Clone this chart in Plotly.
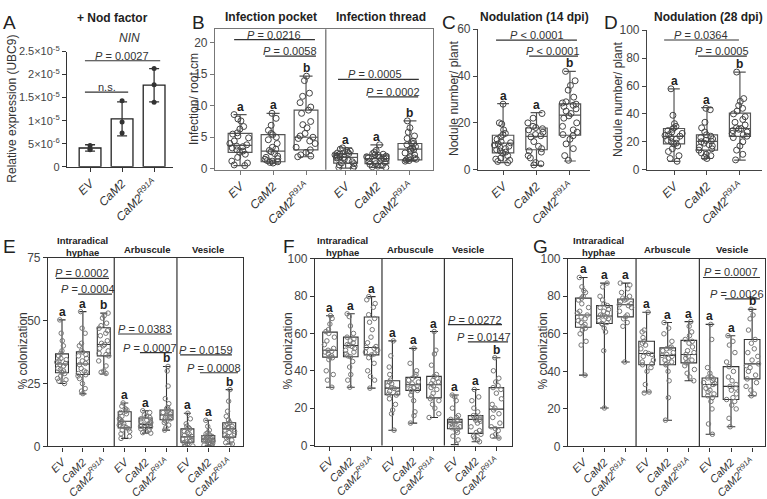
import plotly.graph_objects as go

W, H = 767, 499
FONT = "Liberation Sans, Arial, sans-serif"

# ---------------- data ----------------
tick_text = ["<i>EV</i>", "<i>CaM2</i>", "<i>CaM2</i><sup><i>R91A</i></sup>"]

# Panel A: NIN relative expression (+ Nod factor)
nin_mean = [4.07e-6, 10.4e-6, 17.7e-6]
nin_sd = [0.7e-6, 3.7e-6, 3.6e-6]
nin_pts = [[4.6e-6, 3.7e-6, 3.9e-6], [14.3e-6, 9.7e-6, 7.3e-6], [21.3e-6, 17.8e-6, 14.0e-6]]
a_ticks = [0, 5e-6, 1e-5, 1.5e-5, 2e-5, 2.5e-5]
a_ticktext = ["0", "5×10<sup>-6</sup>", "1×10<sup>-5</sup>", "1.5×10<sup>-5</sup>",
              "2×10<sup>-5</sup>", "2.5×10<sup>-5</sup>"]

# box stats: [min, q1, median, q3, max]
# Panel B: infection pocket (3) + infection thread (3)
b_stats = [[0.5, 2.6, 3.7, 5.6, 8.6], [0.9, 1.1, 2.8, 5.4, 8.8], [1.9, 3.0, 5.0, 9.3, 14.7],
           [0.1, 0.9, 1.8, 2.4, 3.3], [0.2, 0.8, 1.6, 2.2, 3.8], [1.2, 1.4, 3.1, 4.0, 7.6]]
b_pts = [
    [8.6, 7.9, 7.6, 6.7, 6.3, 5.7, 5.5, 5.2, 4.9, 4.4, 4.0, 3.8, 3.6, 3.5, 3.3, 3.0, 2.8, 2.6, 2.3, 1.8, 1.2, 0.9, 0.6, 0.5],
    [8.8, 8.0, 6.9, 6.1, 5.6, 5.4, 5.0, 4.6, 4.0, 3.4, 3.1, 2.9, 2.7, 2.4, 2.0, 1.8, 1.6, 1.5, 1.3, 1.2, 1.1, 1.0, 0.9],
    [14.7, 14.0, 12.0, 11.5, 10.5, 9.8, 9.3, 8.8, 7.5, 7.0, 6.5, 5.6, 5.2, 5.0, 4.8, 4.4, 4.0, 3.4, 3.0, 2.6, 2.2, 2.0, 1.9],
    [3.3, 3.1, 2.9, 2.8, 2.6, 2.5, 2.4, 2.3, 2.2, 2.0, 1.9, 1.8, 1.8, 1.7, 1.5, 1.3, 1.1, 0.9, 0.8, 0.6, 0.4, 0.2, 0.1],
    [3.8, 2.9, 2.6, 2.4, 2.3, 2.2, 2.1, 2.0, 1.9, 1.8, 1.7, 1.6, 1.6, 1.5, 1.3, 1.1, 1.0, 0.8, 0.7, 0.5, 0.4, 0.3, 0.2],
    [7.6, 6.5, 5.8, 5.2, 4.8, 4.4, 4.1, 4.0, 3.8, 3.5, 3.3, 3.1, 3.0, 2.8, 2.5, 2.2, 1.9, 1.7, 1.6, 1.5, 1.4, 1.3, 1.2],
]
b_letters = ["a", "a", "b", "a", "a", "b"]

# Panel C: nodulation 14 dpi
c_stats = [[3.0, 7.2, 11.3, 14.7, 28.2], [1.8, 8.5, 14.2, 17.8, 24.4], [3.7, 14.7, 23.3, 28.1, 42.0]]
c_pts = [
    [28, 20, 19.5, 17, 15.5, 15, 14, 13, 12, 11.5, 11, 10.5, 10, 9.5, 9, 8.5, 8, 7.5, 7, 6, 5, 4.5, 4, 3.5, 3],
    [24, 22, 20, 18.5, 18, 17.5, 17, 16, 15, 14.5, 14, 12, 10, 9, 8, 7.5, 6, 5, 3, 2.5, 2],
    [42, 38, 36, 34, 31, 29, 28.5, 28, 27.5, 27, 26, 25, 24, 23, 22, 20, 18.5, 17, 16, 15, 14.5, 13, 11, 9, 6, 4],
]
c_letters = ["a", "a", "b"]

# Panel D: nodulation 28 dpi
d_stats = [[6, 18.5, 23.8, 29.5, 58], [8, 14, 20.3, 25, 44.5], [6.9, 23.8, 29.5, 40.6, 70]]
d_pts = [
    [58, 39, 33, 31, 30, 29, 28, 27, 26, 25, 24.5, 24, 23, 22, 21, 20, 19, 18.5, 17, 15, 13, 10, 8, 6],
    [44, 43, 34, 30, 27, 25, 24, 23, 22, 21, 20.5, 20, 19, 18, 17, 16, 15, 14, 12, 11, 10, 9, 8],
    [70, 51, 49, 46, 44, 42, 40, 38, 36, 34, 32, 30, 29.5, 29, 28, 27, 26, 25, 24, 23, 20, 17, 14, 11, 7],
]
d_letters = ["a", "a", "b"]

# Panel E: % colonization (intraradical hyphae, arbuscule, vesicle)
e_stats = [[25, 29.3, 32.8, 36.8, 50.3], [20.9, 28.6, 32.8, 37.6, 53.6], [28.8, 36, 40.5, 47.2, 53],
           [3.2, 7.4, 10, 13.8, 17.3], [5.3, 7.5, 8.8, 11.3, 14.2], [6.5, 10.6, 12.5, 14.5, 31.8],
           [0, 1.7, 3.8, 7, 13.2], [0.3, 1.8, 3.0, 4.3, 10.4], [1, 3.7, 7, 9.4, 22.6]]
e_pts = [
    [50.3, 45, 42, 40, 38, 37, 36, 35, 34.5, 34, 33.5, 33, 32.5, 32, 31, 30.5, 30, 29.5, 29, 28, 27, 26.5, 26, 25],
    [53.6, 47, 45, 41, 40, 38, 37.5, 36.5, 36, 35, 34, 33, 32.5, 31, 30, 29.5, 29, 28.5, 28, 27, 25, 23, 22, 21],
    [53, 52, 51, 49, 48, 47, 46, 45, 44, 42, 41, 40.5, 40, 39, 38, 37, 36.5, 36, 34, 32, 30, 29.5, 29],
    [17.3, 16, 15, 14.5, 14, 13.5, 13, 12, 11, 10.5, 10, 9.5, 9, 8.5, 8, 7.5, 7, 6.5, 6, 5, 4, 3.2],
    [14.2, 13.5, 12.5, 12, 11.5, 11, 10.5, 10, 9.5, 9, 8.8, 8.5, 8, 7.8, 7.5, 7, 6.5, 6, 5.5, 5.3],
    [31.8, 30, 24, 19, 17, 15.5, 15, 14.5, 14, 13.5, 13, 12.5, 12, 11.5, 11, 10.5, 10, 9.5, 8.5, 7.5, 6.5],
    [13.2, 11, 9, 8, 7.5, 7, 6, 5.5, 5, 4.5, 4, 3.5, 3, 2.5, 2, 1.8, 1.5, 1, 0.5, 0.2, 0],
    [10.4, 8, 6.5, 5.5, 5, 4.5, 4.2, 4, 3.6, 3.3, 3, 2.8, 2.5, 2.2, 2, 1.8, 1.5, 1.2, 0.8, 0.5, 0.3],
    [22.6, 18, 14, 12, 10.5, 9.5, 9, 8.5, 8, 7.5, 7, 6.5, 6, 5.5, 5, 4.5, 4, 3.5, 2.5, 1.5, 1],
]
e_letters = ["a", "a", "b", "a", "a", "b", "a", "a", "b"]

# Panel F
f_stats = [[31.2, 47.3, 51, 60.7, 69.5], [31.2, 47.5, 53.5, 58, 70.5], [30.7, 48.5, 52.5, 68.8, 79.7],
           [8.2, 27.2, 30.7, 34.7, 56], [12, 29.5, 32.5, 36.5, 52], [15, 25.5, 32.5, 37, 61],
           [0.5, 9, 12.5, 14, 27], [2, 6.5, 14, 16, 30], [4, 9.5, 19.5, 31, 47]]
f_pts = [
    [69.5, 68, 65, 62, 61, 60, 58, 56, 54, 52, 51, 50.5, 50, 49, 48, 47.5, 47, 46, 40, 38, 35, 31.2],
    [70.5, 69, 64, 60, 58, 57, 56, 55, 54, 53.5, 53, 52, 51, 50, 49, 48, 47.5, 45, 42, 38, 35, 31.2],
    [79.7, 78, 76, 74, 70, 68, 66, 62, 58, 55, 53, 52.5, 52, 51, 50, 49, 48.5, 47, 44, 40, 37, 35, 30.7],
    [56, 48, 42, 38, 35, 34, 33, 32, 31, 30.5, 30, 29, 28, 27.5, 27, 25, 22, 19, 17, 8.2],
    [52, 44, 40, 38, 37, 36, 35, 34, 33, 32.5, 32, 31, 30, 29.5, 29, 27, 24, 18, 16, 12],
    [61, 51, 49, 43, 38, 37, 36, 35, 34, 33, 32, 31, 30, 28, 26, 25, 24, 22, 20, 17, 15],
    [27, 26, 24, 20, 16, 15, 14, 13.5, 13, 12.5, 12, 11.5, 11, 10, 9.5, 9, 8, 7, 5, 3, 0.5],
    [30, 26, 24, 20, 18, 16, 15.5, 15, 14.5, 14, 13.5, 13, 12, 10, 8, 7, 6, 5, 4, 3, 2],
    [47, 40, 36, 34, 32, 31, 30, 28, 25, 22, 20, 19, 17, 15, 12, 10, 9, 8, 6, 5, 4],
]
f_letters = ["a", "a", "a", "a", "a", "a", "a", "a", "b"]

# Panel G
g_stats = [[38, 63.5, 70, 79, 90], [20.5, 65.5, 69.5, 75, 87], [45, 69, 75.5, 78.5, 87],
           [29, 43.5, 49.5, 56, 71.5], [14, 43.5, 48.5, 52.5, 66], [35, 44.5, 49, 56.5, 66.5],
           [6.5, 26.5, 33, 36.5, 65], [10.5, 25, 32, 42.5, 59], [27, 36, 44, 57, 73]]
g_pts = [
    [90, 85, 83, 82, 80, 79, 78, 76, 74, 72, 71, 70, 69, 68, 67, 66, 65, 64, 63, 62, 60, 56, 54, 38],
    [87, 85, 80, 78, 76, 75, 74, 73, 72, 71, 70, 69.5, 69, 68, 67, 66, 65.5, 65, 63, 61, 51, 20.5],
    [87, 86, 84, 82, 80, 79, 78.5, 78, 77, 76, 75.5, 75, 74, 72, 70, 69, 68, 66, 64, 45],
    [71.5, 62, 61, 58, 56, 55, 54, 52, 50, 49.5, 49, 48, 46, 45, 44, 43.5, 42, 40, 33, 29, 28.5],
    [66, 63, 60, 56, 53, 52.5, 52, 51, 50, 49, 48.5, 48, 47, 46, 45, 44, 43.5, 40, 35, 26, 14],
    [66.5, 64, 61, 59, 57, 56, 55, 53, 51, 50, 49, 48, 47, 46, 45, 44.5, 43, 41, 39, 37, 35],
    [65, 57, 42, 39, 37, 36.5, 36, 35, 34, 33.5, 33, 32, 31, 30, 29, 28, 27, 26, 24, 20, 12, 6.5],
    [59, 56, 54, 50, 45, 42.5, 40, 37, 35, 33, 32, 31, 30, 28, 26, 25, 24, 22, 20, 15, 10.5],
    [73, 70, 68, 62, 57, 55, 52, 50, 48, 46, 44, 43, 42, 40, 38, 36, 34, 32, 30, 28, 27],
]
g_letters = ["a", "a", "a", "a", "a", "a", "a", "a", "b"]

# significance brackets: (x0, x1, y, text x, p text)
a_sig = [(-0.16, 2.19, 2.3e-5, 1.0, "<i>P</i> = 0.0027"), (-0.16, 1.19, 1.62e-5, 0.53, "n.s.")]
b_sig = [(-0.18, 2.27, 20.5, 1.03, "<i>P</i> = 0.0216"), (0.76, 2.3, 17.9, 1.52, "<i>P</i> = 0.0058"),
         (2.97, 5.42, 14.2, 4.1, "<i>P</i> = 0.0005"), (3.88, 5.4, 11.4, 4.64, "<i>P</i> = 0.0002")]
c_sig = [(-0.21, 2.21, 55.4, 1.0, "<i>P</i> < 0.0001"), (0.78, 2.24, 48.5, 1.5, "<i>P</i> < 0.0001")]
d_sig = [(-0.3, 1.97, 93, 0.82, "<i>P</i> = 0.0364"), (0.73, 2.21, 81.5, 1.45, "<i>P</i> = 0.0005")]
e_sig = [(-0.29, 2.25, 66.8, 0.96, "<i>P</i> = 0.0002"), (0.77, 2.39, 60.5, 1.24, "<i>P</i> = 0.0004"),
         (2.68, 5.26, 44.7, 3.97, "<i>P</i> = 0.0383"), (3.73, 5.26, 37.3, 4.2, "<i>P</i> = 0.0007"),
         (5.65, 8.13, 36.4, 6.9, "<i>P</i> = 0.0159"), (6.6, 8.42, 29.3, 7.27, "<i>P</i> = 0.0008")]
f_sig = [(5.67, 8.27, 64.7, 6.97, "<i>P</i> = 0.0272"), (6.63, 8.56, 55.5, 7.4, "<i>P</i> = 0.0147")]
g_sig = [(5.67, 8.37, 90, 7.0, "<i>P</i> = 0.0007"), (6.71, 8.37, 78.6, 7.28, "<i>P</i> = 0.0026")]

b_pos = [0, 1, 2, 3.2, 4.15, 5.15]
abc_pos = [0, 1, 2]
efg_pos = list(range(9))

# ---------------- figure ----------------
fig = go.Figure()


def px_x(p):
    return p / W


def px_y(p):
    return 1 - p / H


annotations = []
shapes = []


def add_box_panel(n, pos, stats, pts, letters, width, box_col, pt_col, pt_size, lw, letter_size):
    xa, ya = "x%d" % n, "y%d" % n
    fig.add_trace(go.Box(
        x=pos, lowerfence=[s[0] for s in stats], q1=[s[1] for s in stats],
        median=[s[2] for s in stats], q3=[s[3] for s in stats],
        upperfence=[s[4] for s in stats], width=width, whiskerwidth=0.55,
        boxpoints=False, fillcolor="white", line=dict(color=box_col, width=lw),
        xaxis=xa, yaxis=ya, hoverinfo="skip", showlegend=False))
    xs, ys = [], []
    for p, vals in zip(pos, pts):
        xs += [p] * len(vals)
        ys += vals
    fig.add_trace(go.Box(
        x=xs, y=ys, boxpoints="all", jitter=0.9, pointpos=0, width=width,
        fillcolor="rgba(0,0,0,0)", line=dict(width=0, color="rgba(0,0,0,0)"),
        marker=dict(symbol="circle-open", size=pt_size, color=pt_col,
                    line=dict(width=1, color=pt_col)),
        xaxis=xa, yaxis=ya, hoverinfo="skip", showlegend=False))
    for p, s, l in zip(pos, stats, letters):
        annotations.append(dict(x=p, y=s[4], xref=xa, yref=ya, text="<b>%s</b>" % l,
                                showarrow=False, yanchor="bottom", yshift=-1,
                                font=dict(size=letter_size, color="#222", family=FONT)))


def add_sig(n, sig, size=11):
    xa, ya = "x%d" % n, "y%d" % n
    for x0, x1, y, tx, t in sig:
        shapes.append(dict(type="line", xref=xa, yref=ya, x0=x0, x1=x1, y0=y, y1=y,
                           line=dict(color="#333", width=1.2)))
        annotations.append(dict(x=tx, y=y, xref=xa, yref=ya, text=t, showarrow=False,
                                yanchor="bottom", yshift=-3,
                                font=dict(size=size, color="#333", family=FONT)))


# Panel A bars
fig.add_trace(go.Bar(x=abc_pos, y=nin_mean, width=0.68, marker=dict(color="white", line=dict(color="#222", width=1.3)),
                     error_y=dict(type="data", array=nin_sd, color="#333", thickness=1.3, width=5),
                     xaxis="x1", yaxis="y1", hoverinfo="skip", showlegend=False))
ax_pts, ay_pts = [], []
for p, vals in zip(abc_pos, nin_pts):
    ax_pts += [p] * len(vals)
    ay_pts += vals
fig.add_trace(go.Scatter(x=ax_pts, y=ay_pts, mode="markers",
                         marker=dict(size=5, color="#333"), xaxis="x1", yaxis="y1",
                         hoverinfo="skip", showlegend=False))
add_sig(1, a_sig)

add_box_panel(2, b_pos, b_stats, b_pts, b_letters, 0.72, "#555", "#444", 6, 1.2, 12)
add_sig(2, b_sig)
add_box_panel(3, abc_pos, c_stats, c_pts, c_letters, 0.64, "#555", "#444", 6, 1.2, 12)
add_sig(3, c_sig)
add_box_panel(4, abc_pos, d_stats, d_pts, d_letters, 0.64, "#555", "#444", 6, 1.2, 12)
add_sig(4, d_sig)
add_box_panel(5, efg_pos, e_stats, e_pts, e_letters, 0.62, "#333", "#777", 4.5, 1.1, 12)
add_sig(5, e_sig)
add_box_panel(6, efg_pos, f_stats, f_pts, f_letters, 0.7, "#333", "#777", 4.5, 1.1, 12)
add_sig(6, f_sig)
add_box_panel(7, efg_pos, g_stats, g_pts, g_letters, 0.74, "#333", "#777", 4.5, 1.1, 12)
add_sig(7, g_sig)

# separators
for n, xs_ in [(2, [2.6]), (5, [2.5, 5.5]), (6, [2.5, 5.5]), (7, [2.5, 5.5])]:
    for xv in xs_:
        shapes.append(dict(type="line", xref="x%d" % n, yref="y%d domain" % n, x0=xv, x1=xv,
                           y0=0, y1=1, line=dict(color="#333" if n != 2 else "#666", width=1.2)))

# axes
panels = {
    1: dict(xd=(67, 173), yd=(45, 164), xr=(-0.72, 2.59), yr=(0, 2.5e-5), frame=False,
            ticks=abc_pos, ttext=tick_text, yt=a_ticks, ytt=a_ticktext, line="#333", tfs=12, yfs=11),
    2: dict(xd=(215, 433), yd=(22, 167), xr=(-0.76, 5.85), yr=(-0.15, 22.15), frame=True,
            ticks=b_pos, ttext=tick_text * 2, yt=[0, 5, 10, 15, 20], ytt=None, line="#777", tfs=12, yfs=12),
    3: dict(xd=(478, 590), yd=(22, 167), xr=(-0.75, 2.6), yr=(0, 60), frame=False,
            ticks=abc_pos, ttext=tick_text, yt=[0, 20, 40, 60], ytt=None, line="#444", tfs=12, yfs=12),
    4: dict(xd=(647, 762), yd=(23, 167), xr=(-0.82, 2.67), yr=(0, 100), frame=False,
            ticks=abc_pos, ttext=tick_text, yt=[0, 20, 40, 60, 80, 100], ytt=None, line="#444", tfs=12, yfs=12),
    5: dict(xd=(48, 243), yd=(258, 453), xr=(-0.67, 8.66), yr=(0, 75), frame=True,
            ticks=efg_pos, ttext=tick_text * 3, yt=[0, 25, 50, 75], ytt=None, line="#333", tfs=11, yfs=12),
    6: dict(xd=(315, 512), yd=(259, 452), xr=(-0.72, 8.75), yr=(0, 100), frame=True,
            ticks=efg_pos, ttext=tick_text * 3, yt=[0, 20, 40, 60, 80, 100], ytt=None, line="#333", tfs=11, yfs=12),
    7: dict(xd=(568, 765), yd=(259, 453), xr=(-0.725, 8.61), yr=(0, 100), frame=True,
            ticks=efg_pos, ttext=tick_text * 3, yt=[0, 20, 40, 60, 80, 100], ytt=None, line="#333", tfs=11, yfs=12),
}

layout_axes = {}
for n, p in panels.items():
    suffix = "" if n == 1 else str(n)
    layout_axes["xaxis" + suffix] = dict(
        domain=[px_x(p["xd"][0]), px_x(p["xd"][1])], range=list(p["xr"]), anchor="y%d" % n,
        showline=True, linecolor=p["line"], linewidth=1.2, mirror=p["frame"],
        showgrid=False, zeroline=False, tickmode="array", tickvals=p["ticks"],
        ticktext=p["ttext"], tickangle=-45, ticks="outside", ticklen=4, tickcolor=p["line"],
        tickfont=dict(size=p["tfs"], color="#333", family=FONT), fixedrange=True)
    yax = dict(
        domain=[px_y(p["yd"][1]), px_y(p["yd"][0])], range=list(p["yr"]), anchor="x%d" % n,
        showline=True, linecolor=p["line"], linewidth=1.2, mirror=p["frame"],
        showgrid=False, zeroline=False, tickmode="array", tickvals=p["yt"],
        ticks="outside", ticklen=4, tickcolor=p["line"],
        tickfont=dict(size=p["yfs"], color="#444", family=FONT), fixedrange=True)
    if p["ytt"]:
        yax["ticktext"] = p["ytt"]
    layout_axes["yaxis" + suffix] = yax

# text labels (titles, panel letters, axis titles)
def txt(x, y, t, size, bold=False, angle=0, color="#222", italic=False):
    if bold:
        t = "<b>%s</b>" % t
    if italic:
        t = "<i>%s</i>" % t
    annotations.append(dict(x=px_x(x), y=px_y(y), xref="paper", yref="paper", text=t,
                            showarrow=False, textangle=angle, xanchor="center", yanchor="middle",
                            font=dict(size=size, color=color, family=FONT)))


for letter, x, y in [("A", 9, 15), ("B", 198, 15), ("C", 449, 15), ("D", 611, 15),
                     ("E", 9, 246), ("F", 289, 246), ("G", 540, 246)]:
    txt(x, y, letter, 19)

txt(113, 10, "+ Nod factor", 12, bold=True)
txt(129, 31, "NIN", 12, italic=True, color="#333")
txt(271, 9, "Infection pocket", 12, bold=True)
txt(381, 9, "Infection thread", 12, bold=True)
txt(534, 9, "Nodulation (14 dpi)", 12, bold=True)
txt(708, 9, "Nodulation (28 dpi)", 12, bold=True)
for cx, ax_, vx in [(82, 147, 208), (342, 410, 468), (598, 667, 732)]:
    txt(cx, 246, "Intraradical<br>hyphae", 9.5, bold=True)
    txt(ax_, 249, "Arbuscule", 9.5, bold=True)
    txt(vx, 249, "Vesicle", 9.5, bold=True)

txt(12, 104, "Relative expression (UBC9)", 12, angle=-90, color="#333")
txt(194, 94, "Infection/ root cm", 12, angle=-90, color="#333")
txt(454, 94, "Nodule number/ plant", 12, angle=-90, color="#333")
txt(618, 95, "Nodule number/ plant", 12, angle=-90, color="#333")
txt(23, 355, "% colonization", 12, angle=-90, color="#333")
txt(288, 355, "% colonization", 12, angle=-90, color="#333")
txt(543, 355, "% colonization", 12, angle=-90, color="#333")

fig.update_layout(
    width=W, height=H, margin=dict(l=0, r=0, t=0, b=0), autosize=False,
    paper_bgcolor="white", plot_bgcolor="white", boxmode="overlay", barmode="overlay",
    font=dict(family=FONT, color="#333"), showlegend=False,
    annotations=annotations, shapes=shapes, **layout_axes)

pin_js = ("document.documentElement.style.margin='0';document.documentElement.style.overflow='hidden';"
          "document.body.style.margin='0';document.body.style.overflow='hidden';"
          "var gd=document.getElementById('{plot_id}');gd.style.position='absolute';"
          "gd.style.left='0px';gd.style.top='0px';")
fig.write_html("out.html", config={"displayModeBar": False}, post_script=pin_js)
